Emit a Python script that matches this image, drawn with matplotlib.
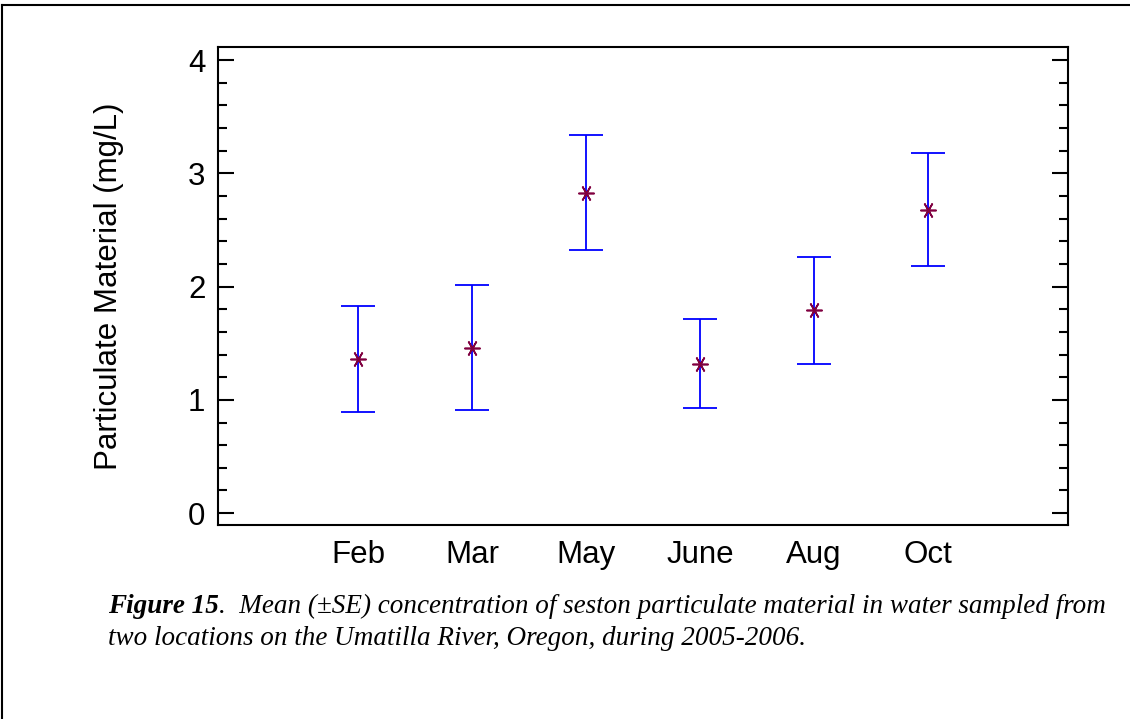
import matplotlib.pyplot as plt
from matplotlib.lines import Line2D
from matplotlib.ticker import MultipleLocator

months = ['Feb', 'Mar', 'May', 'June', 'Aug', 'Oct']
means = [1.36, 1.46, 2.83, 1.32, 1.79, 2.68]
se = [0.47, 0.55, 0.51, 0.39, 0.47, 0.50]

plt.rcParams['font.family'] = ['Liberation Sans', 'DejaVu Sans']

fig = plt.figure(figsize=(11.3, 7.19), dpi=100)
ax = fig.add_axes([0.1929, 0.2698, 0.7522, 0.6648])

x = list(range(len(months)))
ax.errorbar(x, means, yerr=se, fmt='none', ecolor='#0000ff',
            elinewidth=1.3, capsize=12.5, capthick=1.3)
ax.plot(x, means, linestyle='none', marker=(6, 2, 90), markersize=11.5,
        markeredgewidth=1.2, color='#800040')

ax.set_xlim(-1.23, 6.23)
ax.set_ylim(-0.105, 4.115)
ax.set_xticks(x)
ax.set_xticklabels(months, fontsize=22.5)
ax.set_yticks([0, 1, 2, 3, 4])
ax.tick_params(axis='y', labelsize=22.5)
ax.yaxis.set_minor_locator(MultipleLocator(0.2))
ax.tick_params(axis='y', which='major', direction='in', length=11.5, width=1.5,
               left=True, right=True, pad=9)
ax.tick_params(axis='y', which='minor', direction='in', length=6.5, width=1.5,
               left=True, right=True)
ax.tick_params(axis='x', length=0, pad=11)
for s in ax.spines.values():
    s.set_linewidth(1.5)
ax.set_ylabel('Particulate Material (mg/L)', fontsize=22.5, labelpad=46)

# page frame (top and left edges)
fig.add_artist(Line2D([0.0015, 1], [0.993, 0.993], color='black', lw=1.5,
                      transform=fig.transFigure))
fig.add_artist(Line2D([0.0018, 0.0018], [0, 0.993], color='black', lw=1.5,
                      transform=fig.transFigure))

# caption
cap_kw = dict(family=['Liberation Serif', 'DejaVu Serif'], fontsize=19.5,
              style='italic', transform=fig.transFigure, va='baseline')
t = fig.text(0.096, 0.148, 'Figure 15', weight='bold', **cap_kw)
fig.canvas.draw()
bb = t.get_window_extent()
x2 = bb.x1 / fig.bbox.width
fig.text(x2, 0.148, '.  Mean (\u00b1SE) concentration of seston particulate material in water sampled from',
         **cap_kw)
fig.text(0.096, 0.103, 'two locations on the Umatilla River, Oregon, during 2005-2006.', **cap_kw)

fig.savefig('out.png', dpi=100, facecolor='white')
